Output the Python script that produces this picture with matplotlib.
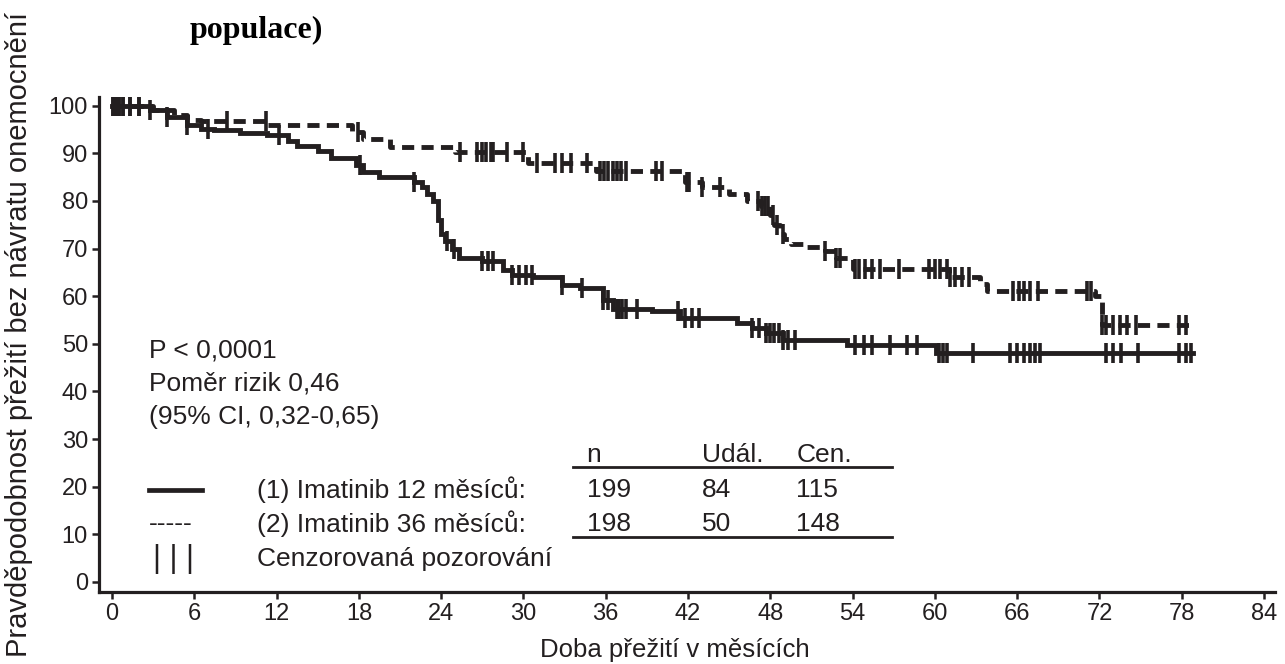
import matplotlib
matplotlib.use('Agg')
import matplotlib.pyplot as plt
import numpy as np

plt.rcParams['font.family'] = ['Liberation Sans', 'DejaVu Sans']
ink = '#231f20'

# Kaplan-Meier steps, imatinib 12 months (solid)
t_12 = [0, 2.8, 4.0, 5.5, 6.5, 7.4, 9.3, 11.3, 12.8, 13.5, 15.0, 16.0, 17.8, 18.3,
        19.5, 22.0, 22.6, 23.0, 23.4, 23.8, 24.0, 24.3, 24.8, 25.3, 27.0, 28.5,
        29.2, 30.7, 32.8, 34.1, 35.8, 36.5, 39.4, 41.4, 45.6, 46.7, 47.7, 48.9,
        53.6, 60.1, 78.8]
s_12 = [100, 99, 97.5, 96, 95, 94.8, 94.2, 93.8, 92.5, 91.5, 90.5, 89, 87.5, 86,
        85, 84, 83, 81.5, 80, 76, 73, 71.5, 70, 68, 67.3, 65.5,
        64.5, 64, 62.4, 61.8, 59.2, 57.3, 56.8, 55.4, 54.4, 53.4, 52.3, 50.8,
        49.8, 48.1, 48.1]
cens_12 = [0.1, 0.3, 0.5, 0.8, 1.3, 2.0, 2.8, 4.0, 5.5, 7.0, 12.2, 18.1, 22.0, 24.4,
           24.9, 27.0, 27.4, 27.8, 29.2, 29.7, 30.2, 30.6, 32.8, 34.3, 35.8, 36.2,
           36.8, 37.0, 37.2, 37.5, 38.3, 41.3, 41.8, 42.3, 42.8, 46.7, 47.2, 47.7,
           48.0, 48.3, 48.6, 48.9, 49.3, 49.8, 54.2, 54.8, 55.4, 56.7, 58.0, 58.7,
           60.3, 60.6, 60.9, 62.8, 65.5, 66.0, 66.5, 66.9, 67.3, 67.7, 72.5, 73.0,
           73.6, 74.8, 77.8, 78.3, 78.7]

# imatinib 36 months (dashed)
t_36 = [0, 3.0, 4.5, 5.5, 6.5, 11.3, 17.5, 18.3, 20.3, 25.0, 30.3, 35.3, 41.8, 43.0,
        45.0, 46.3, 47.3, 48.0, 48.3, 48.7, 49.0, 49.5, 50.5, 52.0, 52.8, 54.0,
        61.0, 63.3, 63.8, 71.7, 72.2, 78.6]
s_36 = [100, 99, 98, 97, 96.8, 96, 94.5, 93, 91.3, 90.2, 88, 86.2, 84, 83,
        81.5, 80, 79, 77, 75, 73, 72, 71, 70.3, 69.5, 68, 65.8,
        64, 62.5, 61, 60, 54, 54]
cens_36 = [0.1, 0.3, 0.5, 0.8, 1.3, 2.0, 8.4, 11.2, 17.9, 25.4, 26.6, 27.0, 27.3,
           27.6, 27.8, 28.8, 30.0, 31.0, 32.3, 32.8, 33.5, 34.6, 35.6, 35.9, 36.2,
           36.5, 36.8, 37.1, 37.5, 39.7, 40.1, 41.9, 42.1, 43.0, 44.3, 47.1, 47.4,
           47.6, 47.8, 48.2, 48.5, 48.9, 52.0, 52.8, 53.1, 54.2, 54.5, 54.9, 55.4,
           56.0, 57.4, 59.6, 60.0, 60.4, 60.9, 61.1, 61.5, 62.0, 62.5, 65.7, 66.1,
           66.5, 66.9, 67.5, 71.1, 71.4, 72.2, 72.5, 73.0, 73.5, 74.0, 74.7, 77.8,
           78.3]

x_ticks = list(range(0, 85, 6))
y_ticks = list(range(0, 101, 10))

groups = ['(1) Imatinib 12 měsíců:', '(2) Imatinib 36 měsíců:']
n_pat = [199, 198]
events = [84, 50]
censored = [115, 148]


def surv_at(t, s, times):
    idx = np.searchsorted(t, times, side='right') - 1
    return np.array(s)[idx]


fig = plt.figure(figsize=(12.85, 6.64), dpi=100)
ax = fig.add_axes([99 / 1285, 1 - 592 / 664, 1176 / 1285, 495 / 664])

ax.plot(t_12, s_12, drawstyle='steps-post', color=ink, lw=3.5, solid_joinstyle='miter')
ax.plot(t_36, s_36, drawstyle='steps-post', color=ink, lw=3.5, dashes=(2.5, 1.5))
ax.plot(cens_12, surv_at(t_12, s_12, cens_12), ls='none', marker='|', ms=14, mew=2.6, color=ink)
ax.plot(cens_36, surv_at(t_36, s_36, cens_36), ls='none', marker='|', ms=14, mew=2.6, color=ink)

ax.set_xlim(-0.95, 84.8)
ax.set_ylim(-2.1, 101.8)
ax.set_xticks(x_ticks)
ax.set_yticks(y_ticks)
for sp in ['top', 'right']:
    ax.spines[sp].set_visible(False)
for sp in ['left', 'bottom']:
    ax.spines[sp].set_linewidth(2.3)
    ax.spines[sp].set_color(ink)
ax.tick_params(direction='out', length=5, width=1.8, color=ink, labelcolor=ink, labelsize=17, pad=3)

ax.set_xlabel('Doba přežití v měsících', fontsize=18.5, color=ink)
ax.xaxis.set_label_coords((675 - 99) / 1176, -0.092)
ax.set_ylabel('Pravděpodobnost přežití bez návratu onemocnění', fontsize=21, color=ink)
ax.yaxis.set_label_coords(-0.056, 0.52)

fs = 19
ax.text(2.7, 48.6, 'P < 0,0001', fontsize=fs, va='center', color=ink)
ax.text(2.7, 41.7, 'Poměr rizik 0,46', fontsize=fs, va='center', color=ink)
ax.text(2.7, 34.6, '(95% CI, 0,32-0,65)', fontsize=fs, va='center', color=ink)

col_x = [34.6, 43.0, 49.9]
for x, h in zip(col_x, ['n', 'Udál.', 'Cen.']):
    ax.text(x, 26.6, h, fontsize=fs, va='center', color=ink)
ax.plot([33.6, 56.9], [24.1, 24.1], color=ink, lw=2)
ax.plot([33.6, 56.9], [9.4, 9.4], color=ink, lw=2)

row_y = [19.3, 12.2]
for y, g, a, b, c in zip(row_y, groups, n_pat, events, censored):
    ax.text(10.6, y, g, fontsize=fs, va='center', color=ink)
    for x, v in zip(col_x, [a, b, c]):
        ax.text(x, y, str(v), fontsize=fs, va='center', color=ink)
ax.plot([2.7, 6.56], [19.3, 19.3], color=ink, lw=3.4)
ax.text(2.7, 12.2, '-----', fontsize=fs, va='center', color=ink)
ax.text(3.0, 4.8, '| | |', fontsize=22, va='center', color=ink)
ax.text(10.6, 4.8, 'Cenzorovaná pozorování', fontsize=fs, va='center', color=ink)

# title (its first line lies above the page edge)
fig.text(190 / 1285, 1 - 30 / 664, 'populace)', family=['Liberation Serif', 'DejaVu Serif'],
         weight='bold', fontsize=23, va='center')

fig.savefig('out.png', dpi=100)
